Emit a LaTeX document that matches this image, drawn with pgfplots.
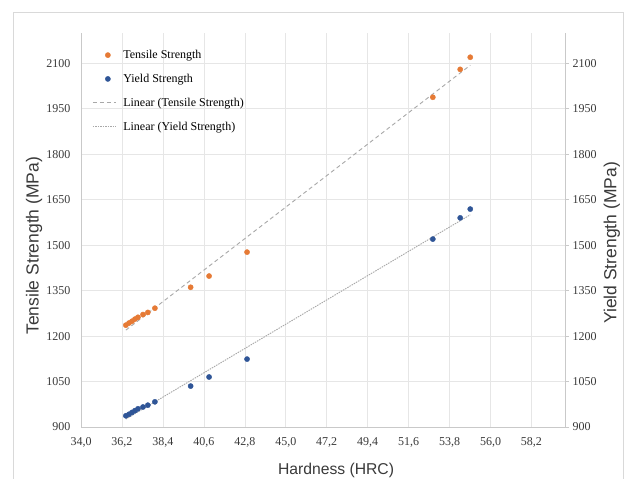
\documentclass[border=0pt]{standalone}
\usepackage{fontspec}
\setmainfont{Liberation Serif}
\newfontfamily\arial{Liberation Sans}
\usepackage{pgfplots}
\usepackage{pgfplotstable}
\pgfplotsset{compat=1.18}
\definecolor{torange}{HTML}{E67A35}
\definecolor{yblue}{HTML}{2F5597}
\definecolor{gridc}{HTML}{E6E6E6}
\definecolor{axc}{HTML}{C9C9C9}
\definecolor{tickc}{HTML}{3A3A3A}
\definecolor{trendc}{HTML}{A8A8A8}

\pgfplotsset{
  scatterleg/.style={legend image code/.code={\draw[mark repeat=2,mark phase=2,##1] plot coordinates {(0pt,0pt) (15pt,0pt) (23pt,0pt)}; \path (28pt,0pt);}},
  lineleg/.style={legend image code/.code={\draw[##1] (0pt,0pt) -- (23pt,0pt); \path (28pt,0pt);}},
}

\pgfplotstableread{
x y
36.41 1236
36.58 1243
36.74 1249
36.90 1256
37.06 1262
37.33 1271
37.59 1278
37.97 1292
39.89 1361
40.88 1398
42.92 1477
52.90 1988
54.37 2080
54.91 2120
}\tensile

\pgfplotstableread{
x y
36.41 937
36.58 942
36.74 948
36.90 954
37.06 960
37.33 966
37.59 972
37.97 983
39.89 1035
40.88 1065
42.92 1124
52.90 1520
54.37 1590
54.91 1619
}\yieldtab

\begin{document}
\begin{tikzpicture}
\useasboundingbox (0pt,0pt) rectangle (627pt,479pt);
\fill[white] (0pt,0pt) rectangle (627pt,479pt);
\draw[axc!70, line width=0.8pt] (13pt,-2pt) -- (13pt,467pt) -- (623pt,467pt) -- (623pt,-2pt);
\begin{axis}[at={(81pt,52pt)}, anchor=south west, scale only axis,
  width=484pt, height=394pt,
  xmin=34, xmax=60, ymin=900, ymax=2200,
  axis x line*=bottom, axis y line*=left,
  axis line style={axc, line width=0.6pt, -},
  xtick={34,36.2,38.4,40.6,42.8,45,47.2,49.4,51.6,53.8,56,58.2},
  xticklabels={{34,0},{36,2},{38,4},{40,6},{42,8},{45,0},{47,2},{49,4},{51,6},{53,8},{56,0},{58,2}},
  ytick={900,1050,1200,1350,1500,1650,1800,1950,2100},
  yticklabels={900,1050,1200,1350,1500,1650,1800,1950,2100},
  major tick length=0pt,
  grid=major, grid style={gridc, line width=0.6pt},
  tick label style={font=\fontsize{12}{14}\selectfont, color=tickc},
  xticklabel style={yshift=-7pt},
  yticklabel style={xshift=-7pt},
  xlabel={Hardness (HRC)},
  ylabel={Tensile Strength (MPa)},
  xlabel style={font=\arial\fontsize{15.7}{18}\selectfont, color=tickc,
    at={(axis description cs:0.527,-0.109)}, anchor=center},
  ylabel style={font=\arial\fontsize{17.5}{20}\selectfont, color=tickc,
    at={(axis description cs:-0.097,0.46)}, anchor=center},
  legend style={at={(axis description cs:0.017,0.967)}, anchor=north west,
    draw=none, fill=none, font=\fontsize{12}{14}\selectfont, row sep=10pt},
  legend cell align=left,
]
\addplot[only marks, mark=*, mark size=2.6pt, color=torange, scatterleg]
  table[x=x,y=y] {\tensile};
\addlegendentry{Tensile Strength}
\addplot[only marks, mark=*, mark size=2.6pt, color=yblue, scatterleg]
  table[x=x,y=y] {\yieldtab};
\addlegendentry{Yield Strength}
\addplot[no marks, color=trendc, line width=0.9pt, dash pattern=on 4pt off 3pt, lineleg]
  coordinates {(36.41,1219.6) (54.91,2093.6)};
\addlegendentry{Linear (Tensile Strength)}
\addplot[no marks, color=trendc, line width=0.9pt, dash pattern=on 1.5pt off 1pt, lineleg]
  coordinates {(36.41,926.1) (54.91,1600.2)};
\addlegendentry{Linear (Yield Strength)}
\end{axis}
\begin{axis}[at={(81pt,52pt)}, anchor=south west, scale only axis,
  width=484pt, height=394pt,
  xmin=34, xmax=60, ymin=900, ymax=2200,
  axis y line*=right, axis x line=none,
  axis line style={axc, line width=0.6pt, -},
  ytick={900,1050,1200,1350,1500,1650,1800,1950,2100},
  yticklabels={900,1050,1200,1350,1500,1650,1800,1950,2100},
  tick align=outside, major tick length=4pt,
  tick style={axc, line width=0.6pt},
  tick label style={font=\fontsize{12}{14}\selectfont, color=tickc},
  ylabel={Yield Strength (MPa)},
  ylabel style={font=\arial\fontsize{17.5}{20}\selectfont, color=tickc,
    at={(axis description cs:1.097,0.467)}, anchor=center},
]
\addplot[draw=none, forget plot] coordinates {(34,900)};
\end{axis}
\end{tikzpicture}
\end{document}
